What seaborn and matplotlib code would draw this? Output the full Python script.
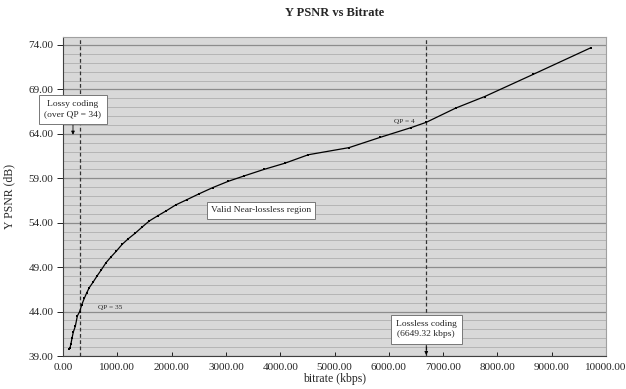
import numpy as np
import pandas as pd
import matplotlib
matplotlib.use("Agg")
import matplotlib.pyplot as plt
import seaborn as sns
from matplotlib.ticker import MultipleLocator, FormatStrFormatter

bitrate = [116, 129, 147, 166, 190, 227, 264, 307, 344, 393, 436, 485, 558, 632,
           706, 792, 884, 982, 1087, 1203, 1326, 1455, 1590, 1750, 1891, 2075,
           2284, 2505, 2757, 3039, 3328, 3702, 4088, 4518, 5267, 5838, 6409,
           6690, 7232, 7766, 8661, 9724]
psnr = [39.8, 39.9, 40.4, 41.0, 41.7, 42.35, 43.5, 44.0, 44.75, 45.5, 46.1, 46.7,
        47.35, 48.05, 48.7, 49.5, 50.15, 50.8, 51.55, 52.2, 52.8, 53.5, 54.2,
        54.8, 55.3, 56.0, 56.6, 57.25, 57.95, 58.65, 59.25, 60.0, 60.7, 61.65,
        62.45, 63.6, 64.7, 65.3, 66.9, 68.2, 70.7, 73.7]
df = pd.DataFrame({"bitrate": bitrate, "psnr": psnr})

qp35_rate = 313
lossless_rate = 6690

sns.set_theme(style="white")
plt.rcParams['font.family'] = ['Liberation Serif', 'DejaVu Serif']

fig = plt.figure(figsize=(6.26, 3.89), dpi=100)
ax = fig.add_axes([63/626, 1-356/389, (606-63)/626, (356-37)/389])
ax.set_facecolor("#d8d8d8")

sns.lineplot(data=df, x="bitrate", y="psnr", ax=ax, color="black", lw=0.9,
             marker="s", markersize=2.0, markeredgewidth=0, zorder=3)

ax.set_xlim(0, 10000)
ax.set_ylim(39, 74.9)
ax.xaxis.set_major_locator(MultipleLocator(1000))
ax.yaxis.set_minor_locator(MultipleLocator(1))
ax.xaxis.set_major_formatter(FormatStrFormatter("%.2f"))
ax.yaxis.set_major_formatter(FormatStrFormatter("%.2f"))
ax.set_yticks(np.arange(39, 75, 5))
ax.grid(axis="y", which="major", color="#8c8c8c", lw=0.9)
ax.grid(axis="y", which="minor", color="#b4b4b4", lw=0.7)
ax.set_axisbelow(True)
ax.tick_params(axis="y", which="major", direction="out", length=4, width=0.6,
               labelsize=8, pad=3, left=True, color="black")
ax.tick_params(axis="y", which="minor", length=0)
ax.tick_params(axis="x", direction="in", length=3, width=0.6, labelsize=8,
               pad=5, bottom=True, color="black")
for s in ["top", "right"]:
    ax.spines[s].set_color("#a0a0a0")
    ax.spines[s].set_linewidth(0.8)
for s in ["left", "bottom"]:
    ax.spines[s].set_color("#404040")
    ax.spines[s].set_linewidth(0.8)

ax.axvline(qp35_rate, color="#333333", ls=(0, (3, 2)), lw=0.9, zorder=2)
ax.axvline(lossless_rate, color="#333333", ls=(0, (3, 2)), lw=0.9, zorder=2)

ax.set_title("Y PSNR vs Bitrate", fontsize=9, fontweight="bold", pad=15)
ax.set_xlabel("bitrate (kbps)", fontsize=8.5, labelpad=1)
ax.set_ylabel("Y PSNR (dB)", fontsize=8.5, labelpad=9)

box = dict(boxstyle="square,pad=0.55", fc="white", ec="#777777", lw=0.7)
ax.annotate("Lossy coding\n(over QP = 34)", xy=(184, 63.9), xytext=(184, 66.75),
            fontsize=6.8, ha="center", va="center", bbox=box, linespacing=1.35,
            arrowprops=dict(arrowstyle="-|>", color="black", lw=0.6,
                            mutation_scale=5, shrinkA=0, shrinkB=0))
ax.text(3646, 55.4, "Valid Near-lossless region", fontsize=6.8, ha="center",
        va="center", bbox=dict(boxstyle="square,pad=0.45", fc="white",
                               ec="#777777", lw=0.7))
ax.annotate("Lossless coding\n(6649.32 kbps)", xy=(lossless_rate, 39.1),
            xytext=(lossless_rate, 42.0), fontsize=6.8, ha="center", va="center",
            bbox=box, linespacing=1.35,
            arrowprops=dict(arrowstyle="-|>", color="black", lw=0.6,
                            mutation_scale=5, shrinkA=0, shrinkB=0))
ax.text(650, 44.45, "QP = 35", fontsize=5.3, ha="left", va="center")
ax.text(6096, 65.4, "QP = 4", fontsize=5.3, ha="left", va="center")

fig.savefig("out.png", dpi=100)
